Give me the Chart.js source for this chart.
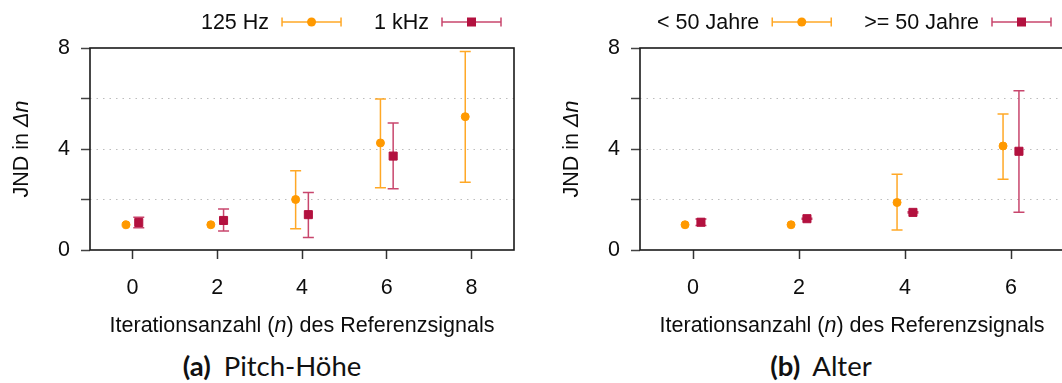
<!DOCTYPE html>
<html><head><meta charset="utf-8">
<script src="https://cdn.jsdelivr.net/npm/chart.js@4/dist/chart.umd.min.js"></script>
<style>
html,body{margin:0;padding:0;background:#fff;overflow:hidden;width:1062px;height:383px;}
#wrap{position:relative;width:1062px;height:383px;overflow:hidden;}
canvas{position:absolute;top:0;}
.cap{position:absolute;font-family:Lato,sans-serif;font-size:27.5px;line-height:32px;color:#111;white-space:nowrap;text-align:center;}
.cap b{font-weight:700;margin-right:6px;}
</style></head><body>
<div id="wrap">
<canvas id="ca" width="531" height="345" style="left:0px"></canvas>
<canvas id="cb" width="545" height="345" style="left:531px"></canvas>
<div class="cap" style="left:172px;top:350px;width:200px"><b>(a)</b> Pitch-Höhe</div>
<div class="cap" style="left:721px;top:350px;width:200px"><b>(b)</b> Alter</div>
</div>
<script>
// ---------- data (a) Pitch-Höhe ----------
const iterA125 = [0, 2, 4, 6, 8];
const hz125Mean = [1.00, 1.00, 2.00, 4.24, 5.28];
const hz125Low  = [1.00, 1.00, 0.84, 2.47, 2.68];
const hz125High = [1.00, 1.00, 3.14, 5.98, 7.86];
const iterA1k = [0, 2, 4, 6];
const khz1Mean = [1.09, 1.17, 1.40, 3.72];
const khz1Low  = [0.88, 0.75, 0.50, 2.43];
const khz1High = [1.30, 1.62, 2.28, 5.03];
// ---------- data (b) Alter ----------
const iterBYoung = [0, 2, 4, 6];
const youngMean = [1.00, 1.00, 1.88, 4.12];
const youngLow  = [1.00, 1.00, 0.79, 2.80];
const youngHigh = [1.00, 1.00, 3.00, 5.39];
const iterBOld = [0, 2, 4, 6];
const oldMean = [1.10, 1.24, 1.49, 3.91];
const oldLow  = [0.97, 1.22, 1.47, 1.50];
const oldHigh = [1.23, 1.26, 1.51, 6.31];
// ---------- ticks / labels ----------
const xTicksA = [0, 2, 4, 6, 8];
const xTicksB = [0, 2, 4, 6];
const yTicks = [0, 2, 4, 6, 8];
const yTickLabels = [0, 4, 8];
const seriesLabelsA = ['125 Hz', '1 kHz'];
const seriesLabelsB = ['< 50 Jahre', '>= 50 Jahre'];
const xTitleParts = [['Iterationsanzahl (', false], ['n', true], [') des Referenzsignals', false]];
const yTitleParts = [['JND in ', false], ['Δn', true]];

const ORANGE = '#ff9900', ORANGE_BAR = 'rgba(255,153,0,0.85)';
const CRIMSON = '#b3113f', CRIMSON_BAR = 'rgba(186,24,72,0.8)';
const FAM = '"Liberation Sans", Arial, Helvetica, sans-serif';
const FS = 21.5;
const DODGE = 0.15;

function mkSet(label, xs, mean, low, high, color, barColor, shape, dodge) {
  return {
    label, data: xs.map((v, i) => ({x: v + dodge, y: mean[i]})),
    errLow: low, errHigh: high, barColor,
    pointStyle: shape, pointRadius: shape === 'rect' ? 5.7 : 4.0,
    pointBorderWidth: 1, backgroundColor: color, borderColor: color,
    showLine: false
  };
}

function segText(ctx, parts) {
  let w = 0;
  parts.forEach(p => { ctx.font = (p[1] ? 'italic ' : '') + FS + 'px ' + FAM; w += ctx.measureText(p[0]).width; });
  return w;
}
function drawParts(ctx, parts, x, y) {
  parts.forEach(p => {
    ctx.font = (p[1] ? 'italic ' : '') + FS + 'px ' + FAM;
    ctx.fillText(p[0], x, y);
    x += ctx.measureText(p[0]).width;
  });
}

const deco = {
  id: 'deco',
  beforeDatasetsDraw(chart) {
    const {ctx, scales: {x, y}} = chart;
    ctx.save();
    chart.data.datasets.forEach(ds => {
      ctx.strokeStyle = ds.barColor; ctx.lineWidth = 1.5;
      ds.data.forEach((pt, i) => {
        const lo = ds.errLow[i], hi = ds.errHigh[i];
        if (hi - lo <= 0) return;
        const px = x.getPixelForValue(pt.x);
        const py1 = y.getPixelForValue(lo), py2 = y.getPixelForValue(hi);
        ctx.beginPath();
        ctx.moveTo(px, py1); ctx.lineTo(px, py2);
        ctx.moveTo(px - 5.5, py1); ctx.lineTo(px + 5.5, py1);
        ctx.moveTo(px - 5.5, py2); ctx.lineTo(px + 5.5, py2);
        ctx.stroke();
      });
    });
    ctx.restore();
  },
  afterDraw(chart) {
    const {ctx, chartArea: a} = chart;
    ctx.save();
    ctx.strokeStyle = '#1a1a1a'; ctx.lineWidth = 1.6;
    ctx.strokeRect(a.left, a.top, a.right - a.left, a.bottom - a.top);
    ctx.fillStyle = '#0d0d0d'; ctx.textBaseline = 'alphabetic'; ctx.textAlign = 'left';
    const wx = segText(ctx, xTitleParts);
    drawParts(ctx, xTitleParts, (a.left + a.right) / 2 - wx / 2, a.bottom + 82);
    const wy = segText(ctx, yTitleParts);
    ctx.save();
    ctx.translate(a.left - 62, (a.top + a.bottom) / 2);
    ctx.rotate(-Math.PI / 2);
    drawParts(ctx, yTitleParts, -wy / 2, 0);
    ctx.restore();
    ctx.font = FS + 'px ' + FAM; ctx.textAlign = 'right';
    let sEnd = a.right - 13;
    const ds = chart.data.datasets;
    for (let k = ds.length - 1; k >= 0; k--) {
      const d = ds[k], sStart = sEnd - 59, ly = 22;
      ctx.strokeStyle = d.barColor; ctx.lineWidth = 1.5;
      ctx.beginPath();
      ctx.moveTo(sStart, ly); ctx.lineTo(sEnd, ly);
      ctx.moveTo(sStart, ly - 4.5); ctx.lineTo(sStart, ly + 4.5);
      ctx.moveTo(sEnd, ly - 4.5); ctx.lineTo(sEnd, ly + 4.5);
      ctx.stroke();
      const mx = (sStart + sEnd) / 2;
      ctx.fillStyle = d.backgroundColor;
      ctx.beginPath();
      if (d.pointStyle === 'rect') ctx.rect(mx - 4.5, ly - 4.5, 9, 9);
      else ctx.arc(mx, ly, 4.5, 0, Math.PI * 2);
      ctx.fill();
      ctx.fillStyle = '#0d0d0d';
      const tr = sStart - 13;
      ctx.fillText(d.label, tr, 29);
      sEnd = tr - ctx.measureText(d.label).width - 33;
    }
    ctx.restore();
  }
};

function makeChart(id, datasets, xMin, xMax, xTicks, yAxisW, padRight) {
  return new Chart(document.getElementById(id), {
    type: 'scatter',
    data: {datasets},
    options: {
      responsive: false, animation: false, devicePixelRatio: 1,
      layout: {padding: {top: 48, left: 0, right: padRight, bottom: 0}},
      plugins: {legend: {display: false}, tooltip: {enabled: false}},
      scales: {
        x: {
          type: 'linear', min: xMin, max: xMax,
          afterBuildTicks: s => { s.ticks = xTicks.map(v => ({value: v})); },
          afterFit: s => { s.height = 95; },
          grid: {drawOnChartArea: false, drawTicks: true, tickLength: 9, tickColor: '#333', tickWidth: 1.5},
          border: {display: false},
          ticks: {font: {family: FAM, size: FS}, color: '#0d0d0d', padding: 16, maxRotation: 0, autoSkip: false}
        },
        y: {
          type: 'linear', min: 0, max: 8,
          afterBuildTicks: s => { s.ticks = yTicks.map(v => ({value: v})); },
          afterFit: s => { s.width = yAxisW; },
          grid: {
            drawTicks: true, tickLength: 9, tickColor: '#444', tickWidth: 1.5, lineWidth: 1,
            color: c => (c.tick && c.tick.value > 0 && c.tick.value < 8) ? '#bdbdbd' : 'rgba(0,0,0,0)'
          },
          border: {display: false, dash: c => c.type === 'tick' ? [1.5, 5] : []},
          ticks: {
            font: {family: FAM, size: FS}, color: '#0d0d0d', padding: 11, autoSkip: false,
            callback: v => yTickLabels.includes(v) ? String(v) : ''
          }
        }
      }
    },
    plugins: [deco]
  });
}

makeChart('ca', [
  mkSet(seriesLabelsA[0], iterA125, hz125Mean, hz125Low, hz125High, ORANGE, ORANGE_BAR, 'circle', -DODGE),
  mkSet(seriesLabelsA[1], iterA1k, khz1Mean, khz1Low, khz1High, CRIMSON, CRIMSON_BAR, 'rect', DODGE)
], -1, 9, xTicksA, 90, 17);

makeChart('cb', [
  mkSet(seriesLabelsB[0], iterBYoung, youngMean, youngLow, youngHigh, ORANGE, ORANGE_BAR, 'circle', -DODGE),
  mkSet(seriesLabelsB[1], iterBOld, oldMean, oldLow, oldHigh, CRIMSON, CRIMSON_BAR, 'rect', DODGE)
], -1, 7, xTicksB, 109, 12);
</script>
</body></html>
